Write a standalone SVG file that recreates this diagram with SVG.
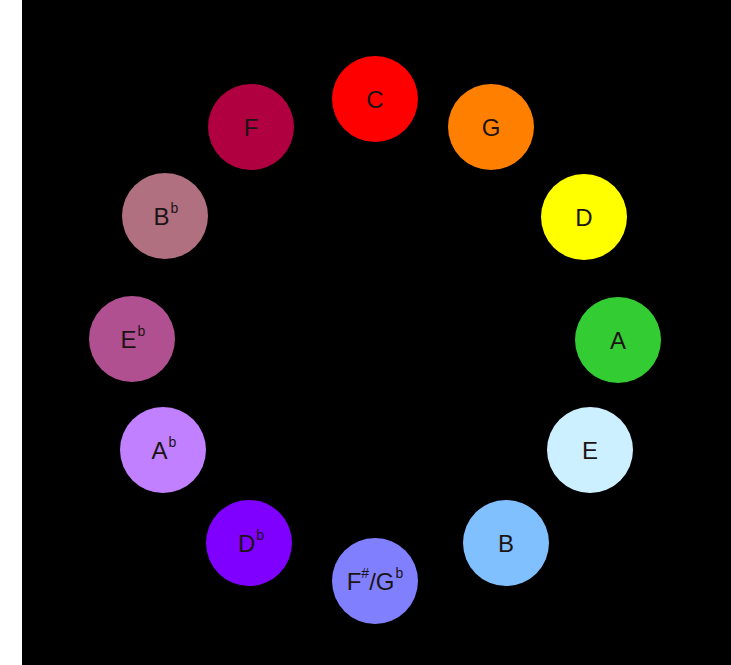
<svg xmlns="http://www.w3.org/2000/svg" width="731" height="665" viewBox="0 0 731 665">
<style>
.n circle{stroke:none}
.n text{font-family:"Liberation Sans",Arial,sans-serif;font-size:24px;fill:#1c1414;text-anchor:middle;dominant-baseline:central}
.s{font-size:14px}
</style>
<rect x="0" y="0" width="731" height="665" fill="#ffffff"/>
<rect x="22" y="0" width="709" height="665" fill="#000000"/>
<g id="connectors"></g>
<g id="C" class="n"><circle cx="375" cy="99" r="43" fill="#ff0000"/><text x="375" y="99">C</text></g>
<g id="G" class="n"><circle cx="491" cy="127" r="43" fill="#ff8000"/><text x="491" y="127">G</text></g>
<g id="D" class="n"><circle cx="584" cy="217" r="43" fill="#ffff00"/><text x="584" y="217">D</text></g>
<g id="A" class="n"><circle cx="618" cy="340" r="43" fill="#33cc33"/><text x="618" y="340">A</text></g>
<g id="E" class="n"><circle cx="590" cy="450" r="43" fill="#ccf0ff"/><text x="590" y="450">E</text></g>
<g id="B" class="n"><circle cx="506" cy="543" r="43" fill="#80c0ff"/><text x="506" y="543">B</text></g>
<g id="FsGb" class="n"><circle cx="375" cy="581" r="43" fill="#8080ff"/><text x="375" y="581">F<tspan class="s" dy="-8">#</tspan><tspan dy="8">/G</tspan><tspan class="s" dx="1" dy="-8">b</tspan></text></g>
<g id="Db" class="n"><circle cx="249" cy="543" r="43" fill="#8000ff"/><text x="251" y="543">D<tspan class="s" dx="1" dy="-8">b</tspan></text></g>
<g id="Ab" class="n"><circle cx="163" cy="450" r="43" fill="#c080ff"/><text x="164" y="450">A<tspan class="s" dx="1" dy="-8">b</tspan></text></g>
<g id="Eb" class="n"><circle cx="132" cy="339" r="43" fill="#b05090"/><text x="133" y="339">E<tspan class="s" dx="1" dy="-8">b</tspan></text></g>
<g id="Bb" class="n"><circle cx="165" cy="216" r="43" fill="#b07080"/><text x="166" y="216">B<tspan class="s" dx="1" dy="-8">b</tspan></text></g>
<g id="F" class="n"><circle cx="251" cy="127" r="43" fill="#b00040"/><text x="251" y="127">F</text></g>
</svg>
